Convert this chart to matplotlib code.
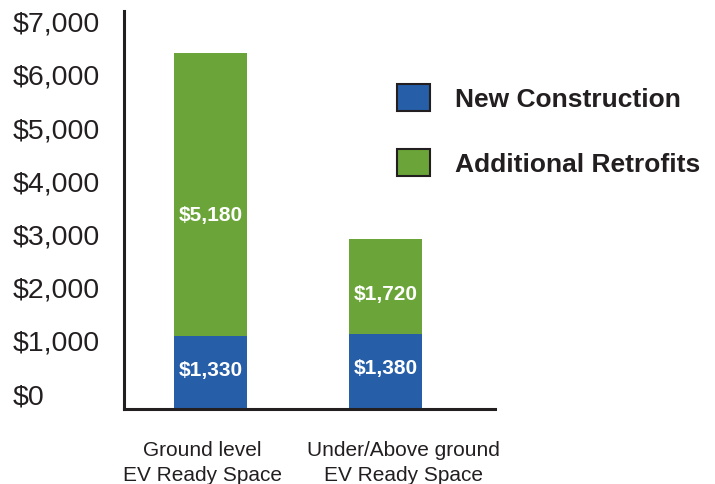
import matplotlib.pyplot as plt
from matplotlib.patches import Patch
from matplotlib.transforms import ScaledTranslation
import numpy as np

plt.rcParams["font.family"] = ["Liberation Sans", "DejaVu Sans"]

categories = ["Ground level\nEV Ready Space", "Under/Above ground\nEV Ready Space"]
new_construction = [1330, 1380]
additional_retrofits = [5180, 1720]
series_names = ["New Construction", "Additional Retrofits"]
y_tick_labels = ["$0", "$1,000", "$2,000", "$3,000", "$4,000", "$5,000", "$6,000", "$7,000"]

BLUE = "#265EA8"
GREEN = "#6BA539"
TEXT = "#231F20"

fig = plt.figure(figsize=(7.15, 4.85), dpi=100)
ax = fig.add_axes([124 / 715, 1 - 410 / 485, (495 - 124) / 715, (410 - 12) / 485])

x = np.arange(len(categories))
width = 0.417
ax.bar(x, new_construction, width, color=BLUE)
ax.bar(x, additional_retrofits, width, bottom=new_construction, color=GREEN)

# value labels inside the segments
for xi, nc, ar in zip(x, new_construction, additional_retrofits):
    ax.text(xi, nc / 2 + 60, f"${nc:,}", ha="center", va="center",
            color="white", fontsize=15, fontweight="bold")
    ax.text(xi, nc + ar * 0.43, f"${ar:,}", ha="center", va="center",
            color="white", fontsize=15, fontweight="bold")

ax.set_xlim(-0.494, 1.626)
ax.set_ylim(0, 7276)

# tick labels in the source sit a bit above the gridline values
ax.set_yticks([290 + 972.6 * k for k in range(len(y_tick_labels))])
ax.set_yticklabels(y_tick_labels, fontsize=20.5, color=TEXT, ha="left")
ax.set_xticks(x)
ax.set_xticklabels(categories, fontsize=15, color=TEXT, linespacing=1.4)
ax.tick_params(axis="y", length=0, pad=80)
ax.tick_params(axis="x", length=0, pad=22)

# category labels are not quite centred under the bars in the source
for lbl, dx in zip(ax.get_xticklabels(), [-8, 18]):
    lbl.set_transform(lbl.get_transform() + ScaledTranslation(dx / 100, 0, fig.dpi_scale_trans))

for side in ["top", "right"]:
    ax.spines[side].set_visible(False)
for side in ["left", "bottom"]:
    ax.spines[side].set_linewidth(2.2)
    ax.spines[side].set_color(TEXT)

handles = [Patch(facecolor=BLUE, edgecolor=TEXT, linewidth=1.5),
           Patch(facecolor=GREEN, edgecolor=TEXT, linewidth=1.5)]
fig.legend(handles, series_names, loc="upper left",
           bbox_to_anchor=(397 / 715, 1 - 85 / 485), frameon=False,
           borderpad=0, borderaxespad=0,
           prop={"size": 19, "weight": "bold"},
           handlelength=1.25, handleheight=1.2, handletextpad=0.95,
           labelspacing=1.42, labelcolor=TEXT)

fig.savefig("out.png", dpi=100)
